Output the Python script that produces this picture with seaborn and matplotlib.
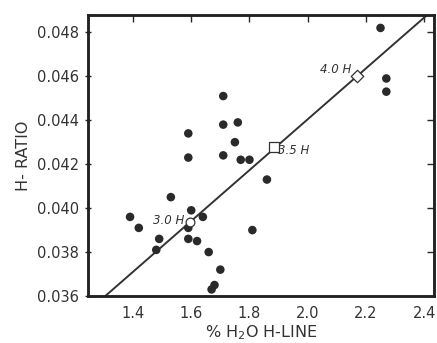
"""Scatter of H-ratio against % H2O H-line, with calibration line."""
import matplotlib
matplotlib.use("Agg")
import matplotlib.pyplot as plt
import seaborn as sns
import pandas as pd

h2o_pct = [1.39, 1.42, 1.48, 1.49, 1.53, 1.59, 1.59, 1.60, 1.59, 1.59,
           1.62, 1.64, 1.66, 1.67, 1.68, 1.70, 1.71, 1.71, 1.71, 1.75,
           1.76, 1.77, 1.80, 1.81, 1.86, 2.25, 2.27, 2.27]
h_ratio = [0.0396, 0.0391, 0.0381, 0.0386, 0.0405, 0.0434, 0.0423, 0.0399, 0.0391, 0.0386,
           0.0385, 0.0396, 0.0380, 0.0363, 0.0365, 0.0372, 0.0451, 0.0438, 0.0424, 0.0430,
           0.0439, 0.0422, 0.0422, 0.0390, 0.0413, 0.0482, 0.0459, 0.0453]

# Calibration points along the line
calib_labels = ["3.0 H", "3.5 H", "4.0 H"]
calib_x = [1.597, 1.883, 2.169]
calib_y = [0.03938, 0.04276, 0.04600]
calib_markers = ["o", "s", "D"]

line_x = [1.305, 2.411]
line_y = [0.0360, 0.0488]

x_ticks = [1.4, 1.6, 1.8, 2.0, 2.2, 2.4]
y_ticks = [0.036, 0.038, 0.040, 0.042, 0.044, 0.046, 0.048]

sns.set_style("white")
plt.rcParams["font.family"] = ["DejaVu Sans"]

df = pd.DataFrame({"h2o": h2o_pct, "ratio": h_ratio})

fig = plt.figure(figsize=(4.37, 3.43), dpi=100)
ax = fig.add_axes([0.201, 0.137, 0.793, 0.820])

sns.lineplot(x=line_x, y=line_y, ax=ax, color="#333333", linewidth=1.4)
sns.scatterplot(data=df, x="h2o", y="ratio", ax=ax, color="#2a2a2a",
                s=38, edgecolor="none", zorder=3)

for lab, cx, cy, mk in zip(calib_labels, calib_x, calib_y, calib_markers):
    ax.scatter(cx, cy, marker=mk, s=55 if mk == "s" else 40, facecolor="white",
               edgecolor="#333333", linewidth=0.9, zorder=4)

ax.text(calib_x[0] - 0.02, calib_y[0] + 0.00005, calib_labels[0], ha="right", va="center",
        fontsize=8.5, style="italic", color="#333333")
ax.text(calib_x[1] + 0.015, calib_y[1] - 0.00015, calib_labels[1], ha="left", va="center",
        fontsize=8.5, style="italic", color="#333333")
ax.text(calib_x[2] - 0.02, calib_y[2] + 0.0003, calib_labels[2], ha="right", va="center",
        fontsize=8.5, style="italic", color="#333333")

ax.set_xlim(1.245, 2.435)
ax.set_ylim(0.036, 0.0488)
ax.set_xticks(x_ticks)
ax.set_yticks(y_ticks)
ax.set_xticklabels([f"{v:.1f}" for v in x_ticks], fontsize=10.5, color="#333333")
ax.set_yticklabels([f"{v:.3f}" for v in y_ticks], fontsize=10.5, color="#333333")
ax.tick_params(axis="x", direction="in", length=5, width=1, top=True, pad=7)
ax.tick_params(axis="y", direction="inout", length=5, width=1, pad=4)

# right-hand ticks point inward
ax_r = ax.twinx()
ax_r.set_ylim(ax.get_ylim())
ax_r.set_yticks(y_ticks)
ax_r.set_yticklabels([])
ax_r.tick_params(axis="y", direction="in", length=5, width=1, right=True)

for a in (ax, ax_r):
    for sp in a.spines.values():
        sp.set_visible(True)
        sp.set_color("#222222")
        sp.set_linewidth(1.8)

ax.set_xlabel("% H$_2$O H-LINE", fontsize=11.5, color="#333333", labelpad=2)
ax.set_ylabel("H- RATIO", fontsize=11.5, color="#333333", labelpad=4)

fig.savefig("out.png", dpi=100)
